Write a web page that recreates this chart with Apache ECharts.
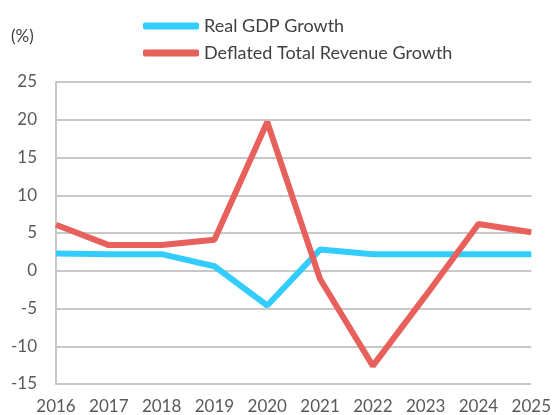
<!DOCTYPE html>
<html><head><meta charset="utf-8">
<script src="https://cdn.jsdelivr.net/npm/echarts@6/dist/echarts.min.js"></script>
<style>html,body{margin:0;padding:0;background:#fff}#c{width:554px;height:415px}</style>
</head><body><div id="c"></div>
<script>
var years = ['2016','2017','2018','2019','2020','2021','2022','2023','2024','2025'];
var realGdp = [2.3, 2.2, 2.2, 0.6, -4.6, 2.8, 2.2, 2.2, 2.2, 2.2];
var deflatedRevenue = [6.1, 3.4, 3.4, 4.1, 19.7, -1.1, -12.6, -3.3, 6.2, 5.1];
var seriesNames = ['Real GDP Growth', 'Deflated Total Revenue Growth'];
var colors = ['#33CCFF', '#E8605B'];
var font = 'Lato, "Open Sans", sans-serif';
var chart = echarts.init(document.getElementById('c'), null, {renderer:'canvas'});
chart.setOption({
  animation:false,
  color: colors,
  textStyle:{fontFamily:font},
  graphic:[{type:'text', left:11, top:28, style:{text:'(%)', font:'17px '+font, fill:'#404040'}}],
  legend:{
    orient:'vertical', left:138, top:12, itemGap:9, itemWidth:56, itemHeight:7,
    icon:'roundRect',
    textStyle:{fontSize:18, color:'#404040', fontFamily:font},
    data: seriesNames
  },
  grid:{left:56, right:19, top:82, bottom:30, containLabel:false},
  xAxis:{
    type:'category', data:years, boundaryGap:false,
    axisLine:{show:false}, axisTick:{show:false},
    axisLabel:{fontSize:17, color:'#595959', margin:14, fontFamily:font, interval:0}
  },
  yAxis:{
    type:'value', min:-15, max:25, interval:5,
    axisLine:{show:true, lineStyle:{color:'#C8C8C8', width:2}},
    axisTick:{show:false},
    splitLine:{lineStyle:{color:'#C8C8C8', width:2}},
    axisLabel:{fontSize:17, color:'#595959', margin:19, fontFamily:font}
  },
  series:[
    {name:seriesNames[0], type:'line', data:realGdp, symbol:'none', lineStyle:{width:6, color:colors[0]}, z:2},
    {name:seriesNames[1], type:'line', data:deflatedRevenue, symbol:'none', lineStyle:{width:6, color:colors[1]}, z:3}
  ]
});
</script></body></html>
